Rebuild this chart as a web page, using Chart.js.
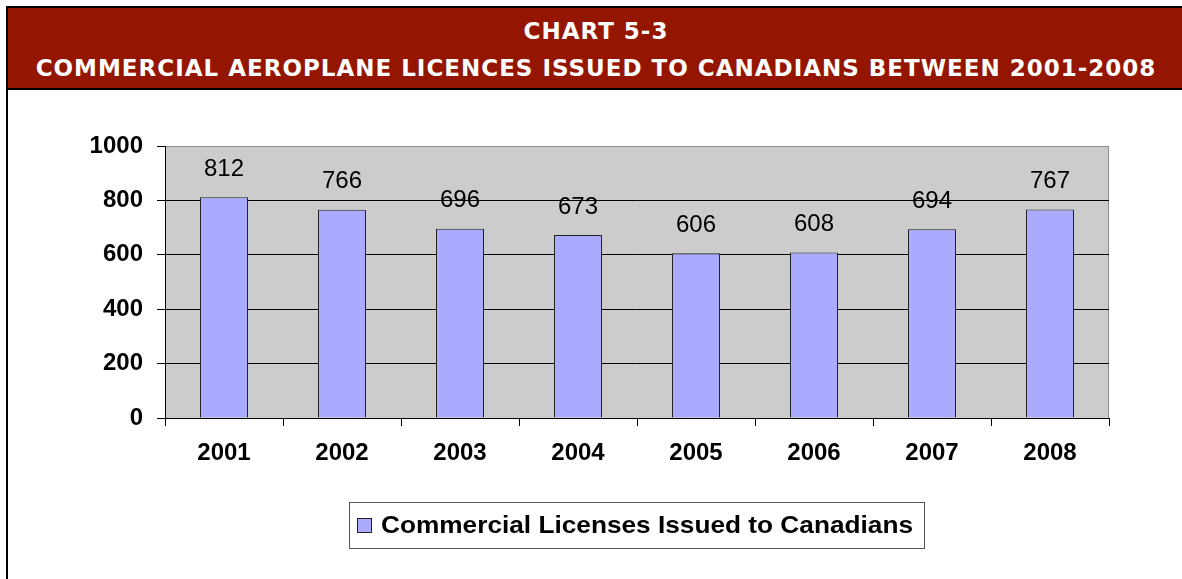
<!DOCTYPE html>
<html>
<head>
<meta charset="utf-8">
<script src="https://cdn.jsdelivr.net/npm/chart.js@4"></script>
<style>
  html, body { margin:0; padding:0; background:#fff; width:1182px; height:579px; overflow:hidden; }
  #banner { position:absolute; left:6px; top:6px; width:1176px; height:80px; background:#941600;
            border-top:2px solid #000; border-bottom:2px solid #000; border-left:2px solid #000; }
  #banner div { position:absolute; left:0; width:100%; text-align:center; color:#fff; line-height:28px;
                font-family:"DejaVu Sans", Verdana, sans-serif; font-weight:bold; font-size:23px; letter-spacing:1px; }
  #leftline { position:absolute; left:6px; top:88px; width:2px; height:491px; background:#000; }
  #wrap { position:absolute; left:0; top:90px; width:1182px; height:489px; }
</style>
</head>
<body>
<div id="banner">
  <div id="t1" style="top:9px;">CHART 5-3</div>
  <div id="t2" style="top:46px;">COMMERCIAL AEROPLANE LICENCES ISSUED TO CANADIANS BETWEEN 2001-2008</div>
</div>
<div id="leftline"></div>
<div id="wrap"><canvas id="c" width="1182" height="489"></canvas></div>
<script>
const years = ['2001','2002','2003','2004','2005','2006','2007','2008'];
const licences = [812, 766, 696, 673, 606, 608, 694, 767];
const seriesLabel = 'Commercial Licenses Issued to Canadians';
const yTicks = [0, 200, 400, 600, 800, 1000];

const FONT = '"Liberation Sans", Arial, sans-serif';

const plotBg = {
  id: 'plotBg',
  beforeDraw(chart) {
    const {ctx, chartArea:a} = chart;
    ctx.save();
    ctx.fillStyle = '#cccccc';
    ctx.fillRect(a.left, a.top, a.right - a.left, a.bottom - a.top);
    ctx.strokeStyle = '#8c8c8c';
    ctx.lineWidth = 1;
    ctx.beginPath();
    ctx.moveTo(a.left, a.top + 0.5); ctx.lineTo(a.right - 0.5, a.top + 0.5); ctx.lineTo(a.right - 0.5, a.bottom);
    ctx.stroke();
    ctx.restore();
  }
};

const valueLabels = {
  id: 'valueLabels',
  afterDatasetsDraw(chart) {
    const {ctx} = chart;
    const meta = chart.getDatasetMeta(0);
    ctx.save();
    ctx.font = '24px ' + FONT;
    ctx.fillStyle = '#000';
    ctx.textAlign = 'center';
    ctx.textBaseline = 'middle';
    meta.data.forEach((bar, i) => {
      ctx.fillText(String(licences[i]), bar.x, bar.y - 28);
    });
    ctx.restore();
  }
};

const boxLegend = {
  id: 'boxLegend',
  afterDraw(chart) {
    const {ctx} = chart;
    const x = 349, y = 412, w = 575, h = 46;
    ctx.save();
    ctx.strokeStyle = '#555';
    ctx.lineWidth = 1;
    ctx.strokeRect(x + 0.5, y + 0.5, w, h);
    ctx.fillStyle = '#aaaaff';
    ctx.fillRect(x + 8, y + 16, 14, 14);
    ctx.strokeStyle = '#222';
    ctx.strokeRect(x + 8.5, y + 16.5, 14, 14);
    ctx.fillStyle = '#000';
    ctx.font = 'bold 24px ' + FONT;
    ctx.textAlign = 'left';
    ctx.textBaseline = 'middle';
    const label = chart.data.datasets[0].label;
    const tw = ctx.measureText(label).width;
    const target = 532;
    ctx.translate(x + 32, y + 24);
    ctx.scale(target / tw, 1);
    ctx.fillText(label, 0, 0);
    ctx.restore();
  }
};

new Chart(document.getElementById('c'), {
  type: 'bar',
  data: {
    labels: years,
    datasets: [{
      label: seriesLabel,
      data: licences,
      backgroundColor: '#aaaaff',
      borderColor: '#222',
      borderWidth: 1,
      categoryPercentage: 1.0,
      barPercentage: 0.407
    }]
  },
  options: {
    responsive: false,
    animation: false,
    devicePixelRatio: 1,
    layout: { padding: { left: 0, right: 73, top: 56, bottom: 101 } },
    plugins: { legend: { display: false }, tooltip: { enabled: false } },
    scales: {
      x: {
        grid: { display: true, drawOnChartArea: false, color: '#000', tickLength: 8, offset: true },
        border: { display: true, color: '#000', width: 1 },
        ticks: { color: '#000', font: { family: FONT, size: 24, weight: 'bold' }, padding: 13, maxRotation: 0 },
        afterFit(s) { s.height = 60; }
      },
      y: {
        min: 0, max: 1000,
        afterBuildTicks(s) { s.ticks = yTicks.map(v => ({ value: v })); },
        grid: { color: (c) => (c.tick && c.tick.value === 1000) ? '#8c8c8c' : '#000', tickLength: 8, tickColor: '#000' },
        border: { display: true, color: '#000', width: 1 },
        ticks: { color: '#000', font: { family: FONT, size: 24, weight: 'bold' }, padding: 14,
                 callback: (v) => String(v) },
        afterFit(s) { s.width = 165; }
      }
    }
  },
  plugins: [plotBg, valueLabels, boxLegend]
});
</script>
</body>
</html>
